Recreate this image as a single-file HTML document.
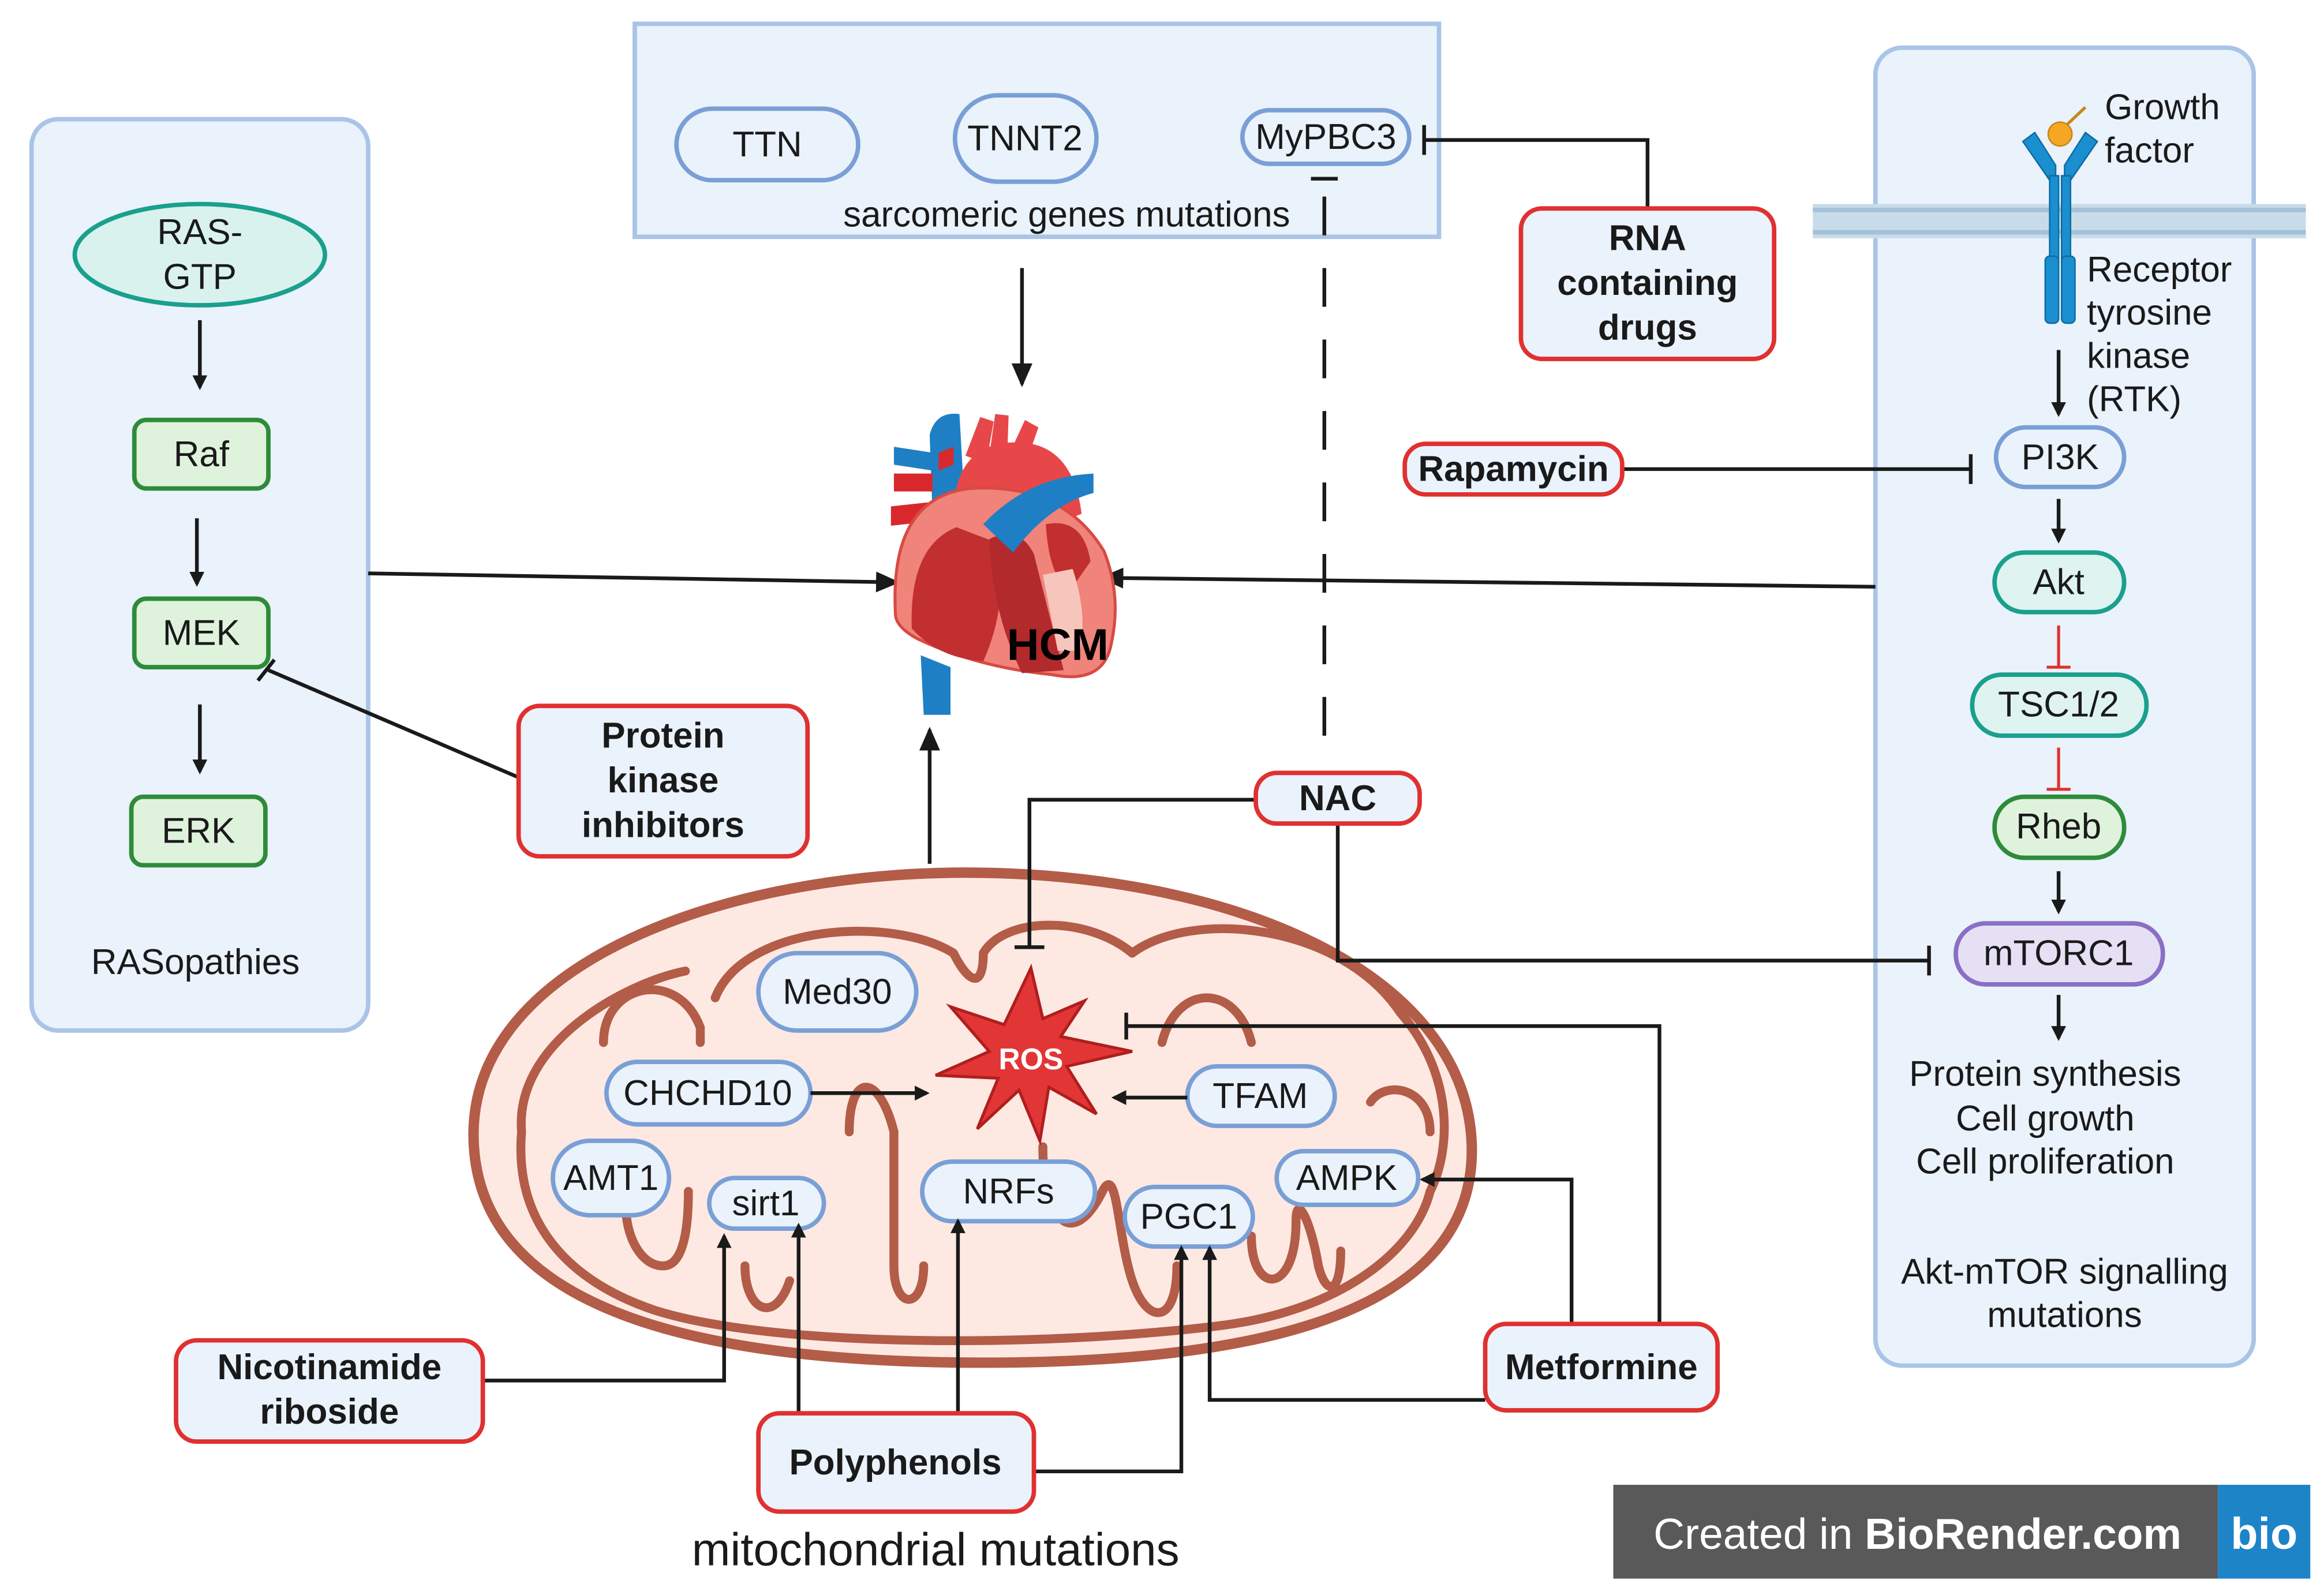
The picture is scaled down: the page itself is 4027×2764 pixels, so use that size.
<!DOCTYPE html>
<html><head><meta charset="utf-8"><style>
html,body{margin:0;padding:0;background:#fff}
svg{display:block}
text{font-family:"Liberation Sans",sans-serif;fill:#1a1a1a}
.b{font-weight:bold}
</style></head><body>
<svg width="4027" height="2764" viewBox="0 0 1560 1071" xmlns="http://www.w3.org/2000/svg">
<defs>
<marker id="ar" markerWidth="10" markerHeight="10" refX="8" refY="5" orient="auto" markerUnits="userSpaceOnUse"><path d="M0,0 L10,5 L0,10 z" fill="#1a1a1a"/></marker>
<marker id="arL" markerWidth="16" markerHeight="14" refX="14" refY="7" orient="auto" markerUnits="userSpaceOnUse"><path d="M0,0 L16,7 L0,14 z" fill="#1a1a1a"/></marker>
</defs>
<!-- Mitochondrion (drawn first) -->
<path d="M318,770 C310,650 480,588 640,586 C820,584 985,650 988,770 C990,880 850,915 660,915 C470,915 325,880 318,770 Z" fill="#fde9e2" stroke="#b35c48" stroke-width="7"/>
<g fill="none" stroke="#b35c48" stroke-width="6" stroke-linejoin="round" stroke-linecap="round">
<path d="M350,760 C345,700 420,660 460,652"/>
<path d="M405,700 C405,660 455,650 470,690 L470,700"/>
<path d="M480,670 C500,620 600,615 640,640 C650,660 660,665 660,640 C675,615 730,615 760,640"/>
<path d="M760,640 C800,610 900,620 940,680 C975,720 975,770 960,800"/>
<path d="M780,700 C790,660 830,660 840,700"/>
<path d="M920,740 C930,725 960,730 960,760"/>
<path d="M350,760 C345,820 380,860 440,880 C520,905 700,905 820,890 C900,880 950,840 960,800"/>
<path d="M420,810 C420,830 430,850 445,850 C460,850 462,820 462,800"/>
<path d="M500,850 C500,880 520,890 530,860"/>
<path d="M570,760 C570,720 590,720 600,760 L600,850 C600,880 620,880 620,850"/>
<path d="M700,770 C700,820 720,840 740,800 C750,780 750,830 760,860 C770,890 790,890 790,850"/>
<path d="M840,830 C840,870 870,870 870,820 C870,800 880,820 885,850 C890,870 900,870 900,840"/>
</g>
<!-- Left panel -->
<rect x="21" y="80" width="226" height="612" rx="18" fill="#eaf2fb" stroke="#a9c4e6" stroke-width="3"/>
<ellipse cx="134" cy="171" rx="84" ry="34" fill="#d9f2ee" stroke="#1aa08d" stroke-width="3"/>
<text x="134" y="164" font-size="24" text-anchor="middle">RAS-</text>
<text x="134" y="194" font-size="24" text-anchor="middle">GTP</text>
<rect x="90" y="282" width="90" height="46" rx="8" fill="#dff3dc" stroke="#2e8b3a" stroke-width="3"/>
<text x="135" y="313" font-size="24" text-anchor="middle">Raf</text>
<rect x="90" y="402" width="90" height="46" rx="8" fill="#dff3dc" stroke="#2e8b3a" stroke-width="3"/>
<text x="135" y="433" font-size="24" text-anchor="middle">MEK</text>
<rect x="88" y="535" width="90" height="46" rx="8" fill="#dff3dc" stroke="#2e8b3a" stroke-width="3"/>
<text x="133" y="566" font-size="24" text-anchor="middle">ERK</text>
<text x="131" y="654" font-size="24" text-anchor="middle">RASopathies</text>
<g stroke="#1a1a1a" stroke-width="2.5" fill="none" marker-end="url(#ar)">
<line x1="134" y1="215" x2="134" y2="260"/>
<line x1="132" y1="348" x2="132" y2="392"/>
<line x1="134" y1="473" x2="134" y2="518"/>
</g>
<!-- Top box -->
<rect x="426" y="16" width="540" height="143" fill="#eaf2fb" stroke="#a9c4e6" stroke-width="3"/>
<rect x="454" y="73" width="122" height="48" rx="24" fill="#eaf2fb" stroke="#7a9fd6" stroke-width="3"/>
<text x="515" y="105" font-size="24" text-anchor="middle">TTN</text>
<rect x="641" y="64" width="95" height="58" rx="29" fill="#eaf2fb" stroke="#7a9fd6" stroke-width="3"/>
<text x="688" y="101" font-size="24" text-anchor="middle">TNNT2</text>
<rect x="834" y="74" width="112" height="36" rx="18" fill="#eaf2fb" stroke="#7a9fd6" stroke-width="3"/>
<text x="890" y="100" font-size="24" text-anchor="middle">MyPBC3</text>
<text x="716" y="152" font-size="24" text-anchor="middle">sarcomeric genes mutations</text>
<!-- Right panel -->
<rect x="1259" y="32" width="254" height="885" rx="18" fill="#eaf2fb" stroke="#a9c4e6" stroke-width="3"/>
<rect x="1217" y="137" width="331" height="23" fill="#c8dbe9"/>
<line x1="1217" y1="141" x2="1548" y2="141" stroke="#a4c1d9" stroke-width="3"/>
<line x1="1217" y1="156" x2="1548" y2="156" stroke="#a4c1d9" stroke-width="3"/>
<g stroke="#1a1a1a" stroke-width="2.5" fill="none">
<polyline points="956,94 1106,94 1106,140"/>
<line x1="956" y1="84" x2="956" y2="104"/>
<line x1="880" y1="120" x2="898" y2="120"/>
<line x1="889" y1="132" x2="889" y2="510" stroke-dasharray="26,22"/>
<line x1="686" y1="180" x2="686" y2="258" marker-end="url(#arL)"/>
<line x1="247" y1="385" x2="602" y2="391" marker-end="url(#arL)"/>
<line x1="1259" y1="394" x2="740" y2="388" marker-end="url(#arL)"/>
<line x1="624" y1="580" x2="624" y2="490" marker-end="url(#arL)"/>
<line x1="348" y1="522" x2="180" y2="450"/>
<line x1="173" y1="457" x2="184" y2="443"/>
<line x1="1089" y1="315" x2="1323" y2="315"/>
<line x1="1323" y1="305" x2="1323" y2="325"/>
<polyline points="843,537 691,537 691,636"/>
<line x1="681" y1="636" x2="701" y2="636"/>
<polyline points="898,553 898,645 1295,645"/>
<line x1="1295" y1="635" x2="1295" y2="655"/>
</g>
<!-- RNA box -->
<rect x="1021" y="140" width="170" height="101" rx="14" fill="#eaf2fb" stroke="#e03030" stroke-width="3"/>
<text class="b" x="1106" y="168" font-size="24" text-anchor="middle">RNA</text>
<text class="b" x="1106" y="198" font-size="24" text-anchor="middle">containing</text>
<text class="b" x="1106" y="228" font-size="24" text-anchor="middle">drugs</text>
<rect x="943" y="298" width="146" height="34" rx="14" fill="#eaf2fb" stroke="#e03030" stroke-width="3"/>
<text class="b" x="1016" y="323" font-size="24" text-anchor="middle">Rapamycin</text>
<rect x="348" y="474" width="194" height="101" rx="14" fill="#eaf2fb" stroke="#e03030" stroke-width="3"/>
<text class="b" x="445" y="502" font-size="24" text-anchor="middle">Protein</text>
<text class="b" x="445" y="532" font-size="24" text-anchor="middle">kinase</text>
<text class="b" x="445" y="562" font-size="24" text-anchor="middle">inhibitors</text>
<rect x="843" y="519" width="110" height="34" rx="14" fill="#eaf2fb" stroke="#e03030" stroke-width="3"/>
<text class="b" x="898" y="544" font-size="24" text-anchor="middle">NAC</text>
<!-- Heart -->
<g>
<path d="M624,292 q4,-16 20,-14 l4,70 -22,0 z" fill="#1f7fc4"/>
<path d="M648,306 l10,-26 9,3 -5,28 z M664,306 l4,-28 9,1 -1,30 z M676,308 l12,-26 9,5 -9,26z" fill="#e8474a"/>
<path d="M640,352 q-2,-55 42,-55 q38,0 44,48 l-30,12 z" fill="#e8474a"/>
<path d="M600,318 l26,0 0,12 -26,0z M598,340 l28,-3 0,13 -28,3z M640,300 l-10,4 0,12 10,-4z" fill="#d8282c"/>
<path d="M600,300 l26,4 0,12 -26,-4z" fill="#1f7fc4"/>
<path d="M601,412 q-4,-78 50,-84 q62,-4 90,42 q12,30 5,62 q-5,28 -40,21 q-50,-5 -90,-24 q-15,-8 -15,-17z" fill="#f0837a" stroke="#d84a44" stroke-width="2"/>
<path d="M612,422 q-2,-55 30,-68 l26,10 q10,40 -8,80 q-30,-2 -48,-22z" fill="#c22f30"/>
<path d="M664,362 q20,-10 30,10 q10,40 20,78 l-28,2 q-20,-40 -22,-90z" fill="#b32a2c"/>
<path d="M702,352 q25,-5 30,25 l-14,20 q-14,-10 -16,-45z" fill="#c22f30"/>
<path d="M700,386 l20,-4 q10,30 5,55 l-15,0z" fill="#f6c6bd"/>
<path d="M660,352 q30,-32 74,-34 l0,13 q-30,8 -54,40 z" fill="#1f7fc4"/>
<path d="M618,440 l20,8 0,32 -18,0 z" fill="#1f7fc4"/>
</g>
<text class="b" x="710" y="443" font-size="30" text-anchor="middle" style="fill:#000">HCM</text>
<!-- Right panel contents -->
<g fill="#1a8fd0" stroke="#0f6ca3" stroke-width="1">
<path d="M1358,95 l8,-6 14,22 0,10 -4,0z"/>
<path d="M1408,95 l-8,-6 -14,22 0,10 4,0z"/>
<rect x="1376" y="118" width="6" height="60"/><rect x="1384" y="118" width="6" height="60"/>
<rect x="1373" y="172" width="9" height="45" rx="3"/><rect x="1384" y="172" width="9" height="45" rx="3"/>
</g>
<line x1="1383" y1="88" x2="1400" y2="72" stroke="#c8861a" stroke-width="2"/>
<circle cx="1383" cy="90" r="8" fill="#f5a623" stroke="#c8861a"/>
<text x="1413" y="80" font-size="24">Growth</text>
<text x="1413" y="109" font-size="24">factor</text>
<text x="1401" y="189" font-size="24">Receptor</text>
<text x="1401" y="218" font-size="24">tyrosine</text>
<text x="1401" y="247" font-size="24">kinase</text>
<text x="1401" y="276" font-size="24">(RTK)</text>
<rect x="1340" y="287" width="86" height="40" rx="20" fill="#eaf2fb" stroke="#7a9fd6" stroke-width="3"/>
<text x="1383" y="315" font-size="24" text-anchor="middle">PI3K</text>
<rect x="1339" y="371" width="87" height="40" rx="20" fill="#dff3f0" stroke="#1aa08d" stroke-width="3"/>
<text x="1382" y="399" font-size="24" text-anchor="middle">Akt</text>
<rect x="1324" y="453" width="117" height="41" rx="20" fill="#dff3f0" stroke="#1aa08d" stroke-width="3"/>
<text x="1382" y="481" font-size="24" text-anchor="middle">TSC1/2</text>
<rect x="1339" y="535" width="87" height="41" rx="20" fill="#dff3dc" stroke="#2e8b3a" stroke-width="3"/>
<text x="1382" y="563" font-size="24" text-anchor="middle">Rheb</text>
<rect x="1313" y="620" width="139" height="41" rx="20" fill="#e6e0f5" stroke="#8a6fc4" stroke-width="3"/>
<text x="1382" y="648" font-size="24" text-anchor="middle">mTORC1</text>
<g stroke="#1a1a1a" stroke-width="2.5" marker-end="url(#ar)">
<line x1="1382" y1="235" x2="1382" y2="278"/>
<line x1="1382" y1="335" x2="1382" y2="363"/>
<line x1="1382" y1="585" x2="1382" y2="612"/>
<line x1="1382" y1="668" x2="1382" y2="697"/>
</g>
<g stroke="#e03030" stroke-width="2">
<line x1="1382" y1="420" x2="1382" y2="448"/><line x1="1374" y1="448" x2="1390" y2="448"/>
<line x1="1382" y1="502" x2="1382" y2="530"/><line x1="1374" y1="530" x2="1390" y2="530"/>
</g>
<text x="1373" y="729" font-size="24" text-anchor="middle">Protein synthesis</text>
<text x="1373" y="759" font-size="24" text-anchor="middle">Cell growth</text>
<text x="1373" y="788" font-size="24" text-anchor="middle">Cell proliferation</text>
<text x="1386" y="862" font-size="24" text-anchor="middle">Akt-mTOR signalling</text>
<text x="1386" y="891" font-size="24" text-anchor="middle">mutations</text>
<!-- ROS & mito proteins -->
<polygon points="692,650 700,684 728,672 712,696 760,706 716,716 736,748 704,730 698,766 684,732 656,758 670,724 628,722 664,706 638,676 674,688" fill="#e23636" stroke="#b01e1e" stroke-width="2"/>
<text class="b" x="692" y="718" font-size="20" text-anchor="middle" style="fill:#fff">ROS</text>
<g fill="#eaf2fb" stroke="#7a9fd6" stroke-width="3">
<rect x="509" y="640" width="106" height="52" rx="26"/>
<rect x="407" y="713" width="137" height="42" rx="21"/>
<rect x="797" y="716" width="99" height="40" rx="20"/>
<rect x="371" y="766" width="78" height="50" rx="25"/>
<rect x="476" y="791" width="77" height="34" rx="17"/>
<rect x="619" y="780" width="116" height="40" rx="20"/>
<rect x="755" y="797" width="86" height="40" rx="20"/>
<rect x="857" y="773" width="95" height="36" rx="18"/>
</g>
<text x="562" y="674" font-size="24" text-anchor="middle">Med30</text>
<text x="475" y="742" font-size="24" text-anchor="middle">CHCHD10</text>
<text x="846" y="744" font-size="24" text-anchor="middle">TFAM</text>
<text x="410" y="799" font-size="24" text-anchor="middle">AMT1</text>
<text x="514" y="816" font-size="24" text-anchor="middle">sirt1</text>
<text x="677" y="808" font-size="24" text-anchor="middle">NRFs</text>
<text x="798" y="825" font-size="24" text-anchor="middle">PGC1</text>
<text x="904" y="799" font-size="24" text-anchor="middle">AMPK</text>
<g stroke="#1a1a1a" stroke-width="2.5" fill="none">
<line x1="544" y1="734" x2="622" y2="734" marker-end="url(#ar)"/>
<line x1="797" y1="737" x2="748" y2="737" marker-end="url(#ar)"/>
<polyline points="1114,888 1114,689 756,689"/>
<line x1="756" y1="680" x2="756" y2="698"/>
<polyline points="1055,889 1055,792 955,792" marker-end="url(#ar)"/>
<polyline points="997,940 812,940 812,838" marker-end="url(#ar)"/>
<polyline points="324,927 486,927 486,830" marker-end="url(#ar)"/>
<line x1="536" y1="949" x2="536" y2="823" marker-end="url(#ar)"/>
<line x1="643" y1="949" x2="643" y2="820" marker-end="url(#ar)"/>
<polyline points="694,988 793,988 793,838" marker-end="url(#ar)"/>
</g>
<rect x="997" y="889" width="156" height="58" rx="14" fill="#eaf2fb" stroke="#e03030" stroke-width="3"/>
<text class="b" x="1075" y="926" font-size="24" text-anchor="middle">Metformine</text>
<rect x="118" y="900" width="206" height="68" rx="14" fill="#eaf2fb" stroke="#e03030" stroke-width="3"/>
<text class="b" x="221" y="926" font-size="24" text-anchor="middle">Nicotinamide</text>
<text class="b" x="221" y="956" font-size="24" text-anchor="middle">riboside</text>
<rect x="509" y="949" width="185" height="66" rx="14" fill="#eaf2fb" stroke="#e03030" stroke-width="3"/>
<text class="b" x="601" y="990" font-size="24" text-anchor="middle">Polyphenols</text>
<text x="628" y="1051" font-size="31" text-anchor="middle">mitochondrial mutations</text>
<!-- BioRender -->
<rect x="1083" y="997" width="406" height="63" fill="#595959"/>
<text x="1110" y="1040" font-size="29" style="fill:#fff">Created in <tspan font-weight="bold" style="fill:#fff">BioRender.com</tspan></text>
<rect x="1489" y="997" width="62" height="63" fill="#1d84c8"/>
<text class="b" x="1520" y="1040" font-size="30" text-anchor="middle" style="fill:#fff">bio</text>
</svg>
</body></html>
